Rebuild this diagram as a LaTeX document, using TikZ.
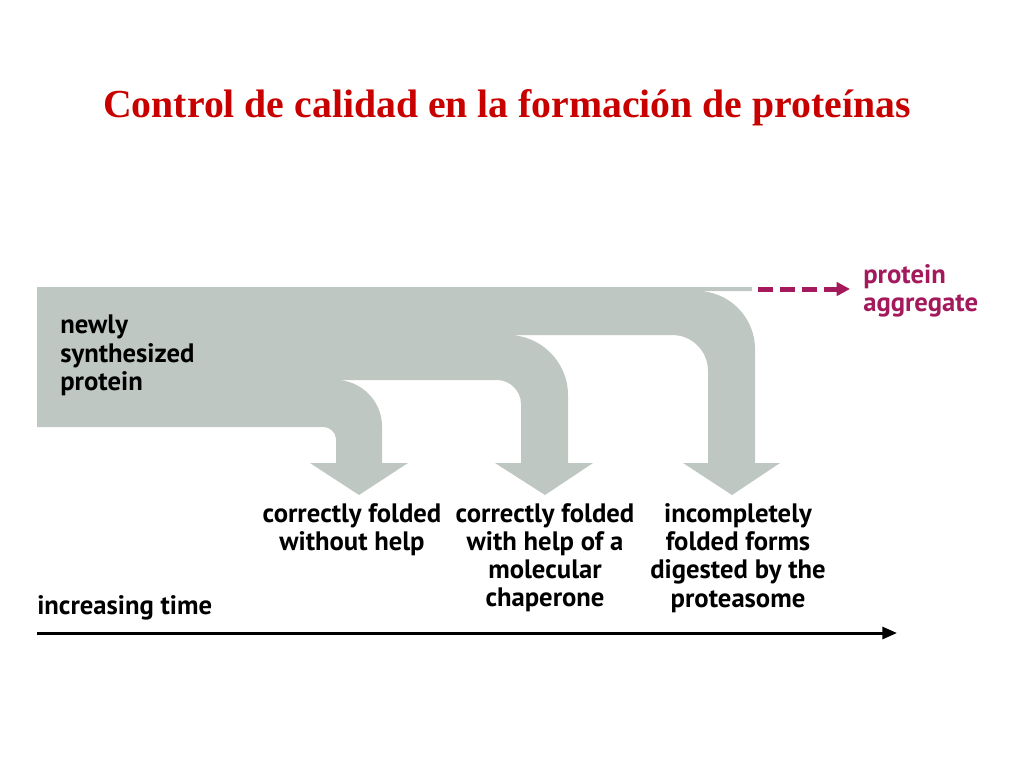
\documentclass[tikz,border=0pt]{standalone}
\usepackage{fontspec}
\setmainfont{Liberation Serif}
\newfontfamily\labelfont{PT Sans}
\usetikzlibrary{arrows.meta, positioning}
\definecolor{bandgray}{RGB}{191, 199, 195}
\definecolor{aggmagenta}{RGB}{163, 25, 91}
\definecolor{titlered}{RGB}{200, 0, 0}

\begin{document}
\begin{tikzpicture}[x=0.75pt, y=-0.75pt,
  lbl/.style={font=\labelfont\bfseries\fontsize{20}{21.2}\selectfont, inner sep=0pt},
  outcome/.style={lbl, align=center, anchor=north}]
  \useasboundingbox (0,0) rectangle (1024,768);

  % Title
  \node[font=\bfseries\fontsize{29.8}{36}\selectfont, text=titlered, anchor=base] (title) at (507, 117) {Control de calidad en la formación de proteínas};

  % Flow band with its three branches
  \fill[bandgray] (37,287) -- (752,287) -- (752,291) -- (697,291)
    .. controls (729,291) and (755,317) .. (755,349)
    -- (755,463) -- (780,463) -- (732,495) -- (683,463) -- (708,463) -- (708,371)
    .. controls (708,351) and (692,335) .. (672,335)
    -- (508,335)
    .. controls (541,335) and (568,362) .. (568,395)
    -- (568,463) -- (593,463) -- (545,495) -- (495,463) -- (521,463) -- (521,404)
    .. controls (521,391) and (510,380) .. (497,380)
    -- (336,380)
    .. controls (361,380) and (382,401) .. (382,426)
    -- (382,463) -- (408,463) -- (359,495) -- (310,463) -- (336,463) -- (336,439)
    .. controls (336,432) and (329,427) .. (324,427)
    -- (37,427) -- cycle;

  % Labels
  \node[lbl, align=left, anchor=north west] (newly) at (60, 315) {newly\\synthesized\\protein};
  \node[outcome] (nohelp) at (352, 503) {correctly folded\\without help};
  \node[outcome] (chaperone) at (545, 503) {correctly folded\\with help of a\\molecular\\chaperone};
  \node[outcome] (proteasome) at (738, 503) {incompletely\\folded forms\\digested by the\\proteasome};
  \node[lbl, align=left, anchor=north west, text=aggmagenta] (aggregate) at (863, 264) {protein\\aggregate};

  % Aggregation
  \coordinate (leak) at (758, 289);
  \draw[aggmagenta, line width=3.75pt, dash pattern=on 11.25pt off 5.25pt, -{Triangle[length=10pt, width=10pt]}, shorten >=9.75pt] (leak) -- (leak -| aggregate.west);

  % Time axis
  \node[lbl, anchor=north west] (time) at (37, 595) {increasing time};
  \coordinate (t0) at (37, 633);
  \coordinate (t1) at (897, 633);
  \draw[line width=2.25pt, -{Triangle[length=11pt, width=9pt]}] (t0) -- (t1);
\end{tikzpicture}
\end{document}
